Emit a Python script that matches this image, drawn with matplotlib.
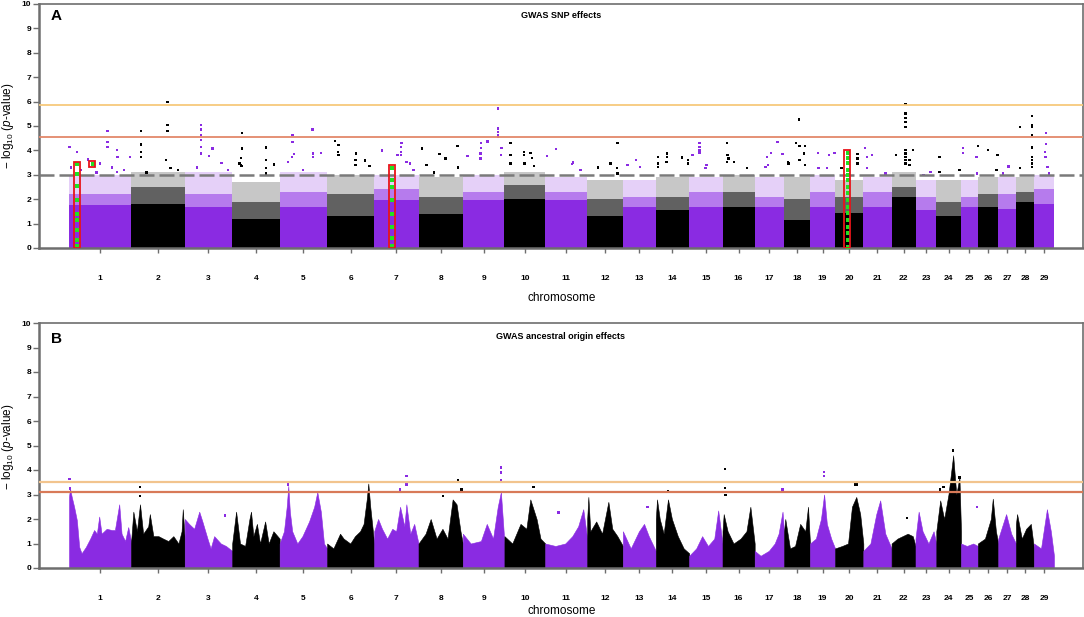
import numpy as np
import matplotlib.pyplot as plt
from matplotlib.patches import Rectangle

plt.rcParams['font.family'] = ['Liberation Sans', 'DejaVu Sans']
plt.rcParams['mathtext.fontset'] = 'custom'
plt.rcParams['mathtext.rm'] = 'Liberation Sans'
plt.rcParams['mathtext.it'] = 'Liberation Sans:italic'

# chromosome lengths (Mb), 29 autosomes
chrom_len = [158, 137, 121, 121, 121, 120, 113, 113, 106, 104, 107, 91, 84, 85, 85,
             82, 75, 66, 64, 72, 72, 61, 53, 63, 43, 52, 45, 46, 51]
chroms = list(range(1, 30))

# ---- panel A: GWAS SNP effects ----
# dense band of points: solid part, half-dense part, sparse part (-log10 p)
a_core = [1.75, 1.8, 1.7, 1.2, 1.7, 1.3, 1.95, 1.4, 1.95, 2.0, 1.95, 1.3, 1.7, 1.55, 1.7,
          1.7, 1.7, 1.15, 1.7, 1.45, 1.7, 2.1, 1.55, 1.3, 1.7, 1.7, 1.6, 1.9, 1.8]
a_mid = [2.2, 2.5, 2.2, 1.9, 2.3, 2.2, 2.4, 2.1, 2.3, 2.6, 2.3, 2.0, 2.1, 2.1, 2.3,
         2.3, 2.1, 2.0, 2.3, 2.1, 2.3, 2.5, 2.1, 1.9, 2.1, 2.2, 2.2, 2.3, 2.4]
a_top = [3.0, 3.1, 3.1, 2.7, 3.1, 3.0, 3.0, 2.9, 3.0, 3.1, 2.9, 2.8, 2.8, 2.9, 2.9,
         3.0, 2.9, 2.9, 3.0, 2.8, 2.9, 3.1, 2.8, 2.8, 2.8, 2.9, 2.9, 2.9, 3.0]

# individual SNPs standing above the band: chromosome, position (Mb), -log10 p
a_out = [
    (1, 1, 4.15), (1, 20, 3.94), (1, 98, 4.79), (1, 98, 4.35), (1, 98, 4.15), (1, 123, 4.01),
    (1, 124, 3.73), (1, 156, 3.73), (1, 48, 3.63), (1, 79, 3.47), (1, 123, 3.12), (1, 5, 3.3),
    (1, 30, 3.2), (1, 70, 3.1), (1, 110, 3.3), (1, 140, 3.2),
    (2, 25, 4.79), (2, 25, 4.24), (2, 25, 3.94), (2, 26, 3.73), (2, 93, 5.98), (2, 93, 5.03),
    (2, 93, 4.79), (2, 89, 3.6), (2, 101, 3.27), (2, 40, 3.1), (2, 120, 3.2),
    (3, 41, 5.03), (3, 41, 4.85), (3, 41, 4.64), (3, 41, 4.43), (3, 41, 4.15), (3, 41, 3.88),
    (3, 71, 4.08), (3, 62, 3.78), (3, 94, 3.49), (3, 31, 3.3), (3, 110, 3.2),
    (4, 25, 4.71), (4, 25, 4.08), (4, 22, 3.7), (4, 23, 3.4), (4, 24, 3.35), (4, 19, 3.47),
    (4, 86, 4.12), (4, 86, 3.6), (4, 86, 3.27), (4, 86, 3.06), (4, 107, 3.43),
    (5, 33, 4.64), (5, 33, 4.35), (5, 31, 3.73), (5, 84, 4.85), (5, 85, 3.88), (5, 85, 3.73),
    (5, 106, 3.9), (5, 37, 3.85), (5, 22, 3.53), (5, 60, 3.2),
    (6, 20, 4.39), (6, 29, 4.22), (6, 27, 3.94), (6, 29, 3.8), (6, 73, 3.88), (6, 72, 3.6),
    (6, 72, 3.4), (6, 97, 3.58), (6, 108, 3.35),
    (7, 70, 4.3), (7, 69, 4.15), (7, 69, 3.94), (7, 68, 3.8), (7, 82, 3.53), (7, 92, 3.47),
    (7, 20, 4.0), (7, 59, 3.8), (7, 100, 3.2),
    (8, 9, 4.08), (8, 54, 3.85), (8, 69, 3.66), (8, 99, 4.19), (8, 20, 3.39), (8, 100, 3.3),
    (8, 40, 3.1),
    (9, 89, 5.72), (9, 89, 4.89), (9, 89, 4.76), (9, 89, 4.64), (9, 89, 4.55), (9, 63, 4.37),
    (9, 46, 4.3), (9, 46, 4.1), (9, 45, 3.88), (9, 45, 3.66), (9, 12, 3.76), (9, 99, 4.1),
    (9, 98, 3.8),
    (10, 15, 4.3), (10, 15, 3.8), (10, 15, 3.47), (10, 50, 3.94), (10, 50, 3.8), (10, 51, 3.47),
    (10, 66, 3.9), (10, 71, 3.7), (10, 75, 3.35),
    (11, 27, 4.05), (11, 4, 3.76), (11, 71, 3.5), (11, 68, 3.45), (11, 90, 3.2),
    (12, 77, 4.3), (12, 59, 3.47), (12, 27, 3.3), (12, 76, 3.27), (12, 77, 3.06),
    (13, 33, 3.6), (13, 12, 3.39), (13, 44, 3.33),
    (14, 6, 3.73), (14, 6, 3.47), (14, 6, 3.33), (14, 29, 3.88), (14, 29, 3.73), (14, 27, 3.53),
    (14, 67, 3.71), (14, 82, 3.6), (14, 82, 3.47),
    (15, 26, 4.3), (15, 26, 4.15), (15, 26, 4.0), (15, 26, 3.9), (15, 8, 3.8), (15, 44, 3.39),
    (15, 42, 3.27),
    (16, 12, 4.3), (16, 13, 3.8), (16, 15, 3.67), (16, 11, 3.53), (16, 29, 3.53), (16, 63, 3.27),
    (17, 58, 4.35), (17, 41, 3.9), (17, 31, 3.73), (17, 71, 3.85), (17, 34, 3.4), (17, 28, 3.33),
    (18, 38, 5.27), (18, 30, 4.3), (18, 39, 4.19), (18, 54, 4.19), (18, 51, 3.88), (18, 39, 3.6),
    (18, 54, 3.4), (18, 10, 3.53), (18, 11, 3.47),
    (19, 20, 3.9), (19, 49, 3.8), (19, 62, 3.9), (19, 22, 3.27), (19, 44, 3.27),
    (20, 57, 3.85), (20, 57, 3.67), (20, 57, 3.47), (20, 16, 3.27),
    (21, 5, 4.1), (21, 22, 3.8), (21, 9, 3.73), (21, 9, 3.27), (21, 57, 3.06),
    (22, 35, 5.89), (22, 35, 5.52), (22, 35, 5.33), (22, 35, 5.16), (22, 35, 4.97), (22, 35, 4.02),
    (22, 35, 3.88), (22, 35, 3.73), (22, 35, 3.6), (22, 35, 3.47), (22, 55, 4.02), (22, 11, 3.8),
    (22, 46, 3.6), (22, 46, 3.39),
    (23, 38, 3.12), (23, 20, 3.0),
    (24, 8, 3.73), (24, 8, 3.12), (24, 59, 3.2),
    (25, 5, 4.1), (25, 5, 3.9), (25, 39, 3.73), (25, 41, 3.06),
    (26, 1, 4.19), (26, 26, 4.02), (26, 50, 3.8), (26, 47, 3.2),
    (27, 26, 3.34), (27, 12, 3.06),
    (28, 10, 4.97), (28, 41, 5.42), (28, 41, 5.03), (28, 41, 4.97), (28, 41, 4.64), (28, 41, 4.12),
    (28, 41, 3.73), (28, 41, 3.6), (28, 41, 3.47), (28, 41, 3.33), (28, 11, 3.27),
    (29, 31, 4.71), (29, 31, 4.26), (29, 28, 3.94), (29, 29, 3.73), (29, 34, 3.33), (29, 38, 3.06),
]

# highlighted regions (red boxes) and the SNPs marked green inside them
box_chrom = [1, 1, 7, 20]
box_start = [13, 52, 38, 23]
box_end = [28, 67, 54, 38]
box_low = [0, 3.33, 0, 0]
box_high = [3.52, 3.55, 3.4, 4.0]

green_chrom = [1] * 9 + [1] + [7] * 8 + [20] * 16
green_pos = [20] * 9 + [60] + [45] * 8 + [32] * 16
green_val = [3.45, 3.04, 2.56, 1.95, 1.4, 1.13, 0.72, 0.31, 0.1,
             3.43,
             3.27, 2.79, 2.51, 1.95, 1.4, 0.85, 0.4, 0.1,
             3.9, 3.68, 3.47, 3.2, 3.0, 2.79, 2.51, 2.24, 1.97, 1.69, 1.42, 1.15, 0.87, 0.6, 0.33, 0.05]

a_thresholds = [5.88, 4.53]
a_suggestive = 3.0

# ---- panel B: GWAS ancestral origin effects ----
# upper outline of the dense points along each chromosome
b_pos = [
    [0, 2.5, 7, 13, 20, 26, 32, 43, 54, 64, 71, 77, 83, 96, 109, 117, 128, 134, 143, 151, 158],
    [0, 6, 15, 23, 31, 44, 48, 57, 70, 82, 95, 108, 121, 129, 132, 137],
    [0, 11, 24, 37, 45, 58, 66, 75, 92, 105, 121],
    [0, 10, 20, 33, 44, 48, 54, 63, 71, 84, 93, 105, 121],
    [0, 11, 18, 22, 26, 32, 45, 58, 75, 88, 96, 105, 113, 121],
    [0, 16, 33, 42, 59, 71, 84, 93, 101, 105, 110, 120],
    [0, 10, 20, 33, 46, 56, 66, 77, 82, 92, 102, 113],
    [0, 18, 31, 46, 61, 74, 87, 97, 107, 113],
    [0, 20, 46, 61, 77, 89, 97, 104, 106],
    [0, 20, 41, 56, 66, 82, 92, 104],
    [0, 26, 51, 69, 84, 97, 107],
    [0, 3, 8, 23, 38, 54, 64, 77, 91],
    [0, 20, 41, 54, 66, 84],
    [0, 3, 10, 20, 31, 41, 56, 71, 85],
    [0, 18, 33, 48, 64, 74, 85],
    [0, 3, 13, 28, 46, 61, 71, 82],
    [0, 15, 36, 51, 61, 71, 75],
    [0, 3, 15, 28, 41, 54, 61, 66],
    [0, 15, 28, 36, 43, 54, 64],
    [0, 18, 33, 43, 54, 64, 72],
    [0, 18, 33, 43, 56, 72],
    [0, 15, 28, 41, 54, 61],
    [0, 8, 18, 33, 46, 53],
    [0, 10, 20, 31, 43, 51, 59, 63],
    [0, 15, 31, 43],
    [0, 18, 33, 38, 46, 52],
    [0, 20, 33, 45],
    [0, 3, 15, 26, 38, 46],
    [0, 18, 33, 43, 51],
]
b_val = [
    [2.9, 3.25, 2.9, 2.5, 1.95, 0.86, 0.6, 0.86, 1.2, 1.55, 1.4, 2.1, 1.4, 1.6, 1.55, 1.55, 2.6, 1.4, 1.1, 1.67, 1.1],
    [1.0, 2.3, 1.5, 2.6, 1.4, 1.7, 2.2, 1.3, 1.3, 1.2, 1.1, 1.3, 1.0, 1.5, 2.4, 1.2],
    [2.0, 1.8, 1.6, 2.3, 1.9, 1.2, 0.8, 1.3, 1.0, 0.9, 0.7],
    [1.0, 2.3, 1.0, 0.9, 2.0, 2.3, 1.3, 1.8, 1.0, 1.9, 1.0, 1.5, 1.2],
    [1.0, 1.5, 2.5, 3.35, 2.3, 1.5, 1.0, 1.3, 1.9, 2.5, 3.1, 2.3, 1.0, 0.8],
    [1.0, 0.8, 1.4, 1.2, 1.0, 1.3, 1.5, 1.8, 2.8, 3.45, 2.5, 1.0],
    [1.5, 2.0, 1.6, 1.2, 1.6, 1.5, 2.5, 1.7, 2.6, 1.4, 1.8, 1.0],
    [1.0, 1.4, 2.0, 1.2, 1.6, 1.2, 2.8, 2.6, 1.5, 1.0],
    [1.4, 1.0, 1.1, 1.8, 1.2, 2.5, 3.1, 1.5, 1.0],
    [1.3, 1.0, 1.8, 1.6, 2.8, 2.0, 1.2, 1.0],
    [1.0, 0.9, 1.0, 1.3, 1.7, 2.4, 1.2],
    [2.0, 2.9, 1.5, 1.9, 1.4, 2.7, 1.6, 1.3, 0.9],
    [1.5, 0.8, 1.5, 1.8, 1.3, 0.7],
    [2.0, 2.8, 2.0, 1.4, 2.8, 2.0, 1.3, 0.8, 0.6],
    [0.5, 0.8, 1.3, 0.9, 1.2, 2.35, 1.0],
    [1.5, 2.2, 1.5, 1.0, 1.2, 1.5, 2.5, 1.0],
    [0.7, 0.5, 0.7, 1.0, 1.4, 2.3, 1.4],
    [1.5, 2.0, 0.8, 0.9, 1.8, 1.5, 2.5, 1.0],
    [1.0, 1.2, 2.0, 3.0, 1.8, 1.2, 0.8],
    [0.8, 0.9, 1.0, 2.5, 2.9, 2.2, 1.0],
    [0.7, 1.0, 2.2, 2.76, 1.4, 0.8],
    [1.0, 1.2, 1.3, 1.4, 1.3, 0.9],
    [1.2, 2.3, 1.5, 1.0, 1.5, 1.0],
    [1.5, 2.76, 2.0, 3.0, 4.6, 3.0, 3.7, 1.5],
    [1.0, 0.9, 1.0, 0.9],
    [1.0, 1.2, 2.0, 2.83, 1.5, 1.0],
    [1.2, 2.2, 1.4, 1.0],
    [1.8, 2.2, 1.2, 1.6, 1.8, 0.8],
    [1.0, 0.8, 2.4, 1.5, 0.5],
]
b_out = [
    (1, 1, 3.63), (1, 2, 3.25), (2, 23, 3.3), (2, 23, 2.95), (3, 102, 2.15), (5, 22, 3.4),
    (6, 105, 3.5), (7, 66, 3.5), (7, 66, 3.2), (7, 82, 3.75), (7, 82, 3.4), (8, 62, 2.93),
    (8, 100, 3.58), (8, 110, 3.2), (9, 97, 4.1), (9, 97, 3.9), (9, 97, 3.6), (10, 74, 3.3),
    (11, 34, 2.26), (13, 63, 2.5), (14, 31, 3.5), (14, 31, 3.15), (16, 7, 4.05), (16, 7, 3.27),
    (16, 8, 2.97), (17, 71, 3.2), (19, 36, 3.92), (19, 36, 3.75), (20, 51, 3.4), (20, 56, 3.4),
    (22, 40, 2.04), (24, 43, 4.8), (24, 10, 3.2), (24, 12, 3.1), (24, 18, 3.3), (24, 59, 3.7),
    (25, 41, 2.5),
]
b_thresholds = [3.52, 3.1]

PURPLE = '#8a2be2'
BLACK = '#000000'
AXIS_GREY = '#6e6e6e'

offsets = np.concatenate([[0], np.cumsum(chrom_len)[:-1]])
mids = offsets + np.array(chrom_len) / 2.0
colors = [PURPLE if c % 2 == 1 else BLACK for c in chroms]


def style_axes(ax):
    ax.set_xlim(-76.5, offsets[-1] + chrom_len[-1] + 74)
    ax.set_ylim(0, 10)
    ax.set_yticks(range(0, 11))
    ax.set_xticks(mids)
    ax.set_xticklabels([str(c) for c in chroms])
    for s in ax.spines.values():
        s.set_color(AXIS_GREY)
        s.set_linewidth(1.2)
    ax.spines['left'].set_linewidth(1.8)
    ax.spines['bottom'].set_linewidth(1.8)
    ax.tick_params(axis='x', length=3.6, width=1.0, color=AXIS_GREY, pad=15.5, labelsize=6)
    ax.tick_params(axis='y', length=4.3, width=1.0, color=AXIS_GREY, pad=1.2, labelsize=6)
    for lab in ax.get_xticklabels() + ax.get_yticklabels():
        lab.set_fontweight('bold')


def scatter_points(ax, pts):
    xs = [offsets[c - 1] + p for c, p, v in pts]
    ys = [v for c, p, v in pts]
    cs = [colors[c - 1] for c, p, v in pts]
    ax.scatter(xs, ys, s=3, c=cs, marker='s', linewidths=0, zorder=2)


fig = plt.figure(figsize=(10.84, 6.17), dpi=100)
W, H = 1084.0, 617.0
axA = fig.add_axes([39 / W, 1 - 248 / H, 1044 / W, 244 / H])
axB = fig.add_axes([39 / W, 1 - 568 / H, 1044 / W, 245 / H])

# panel A
for i, c in enumerate(chroms):
    x = [offsets[i], offsets[i] + chrom_len[i]]
    axA.fill_between(x, 0, a_core[i], color=colors[i], lw=0, zorder=1)
    axA.fill_between(x, a_core[i], a_mid[i], color=colors[i], alpha=0.62, lw=0, zorder=1)
    axA.fill_between(x, a_mid[i], a_top[i], color=colors[i], alpha=0.22, lw=0, zorder=1)
scatter_points(axA, a_out)

axA.axhline(a_thresholds[0], color='#f7c97c', lw=1.3, zorder=3)
axA.axhline(a_thresholds[1], color='#e3886a', lw=1.3, zorder=3)
axA.axhline(a_suggestive, color='#7a7a7a', lw=1.8, ls=(0, (6, 2)), zorder=3)

gx = [offsets[c - 1] + p for c, p in zip(green_chrom, green_pos)]
axA.scatter(gx, green_val, s=5, c='#22e022', marker='s', linewidths=0, zorder=4)
for c, s0, s1, lo, hi in zip(box_chrom, box_start, box_end, box_low, box_high):
    axA.add_patch(Rectangle((offsets[c - 1] + s0, lo), s1 - s0, hi - lo,
                            fill=False, edgecolor='#e8141a', lw=1.3, zorder=5))

style_axes(axA)
axA.text(0.5, 0.951, 'GWAS SNP effects', transform=axA.transAxes, ha='center',
         va='center', fontsize=6.5, fontweight='bold')
axA.text(0.0163, 0.951, 'A', transform=axA.transAxes, ha='center', va='center',
         fontsize=11, fontweight='bold')

# panel B
for i, c in enumerate(chroms):
    x = offsets[i] + np.array(b_pos[i])
    axB.fill_between(x, 0, b_val[i], color=colors[i], lw=0.4, edgecolor=colors[i], zorder=1)
scatter_points(axB, b_out)
axB.axhline(b_thresholds[0], color='#f2c48e', lw=1.6, zorder=3)
axB.axhline(b_thresholds[1], color='#d87a58', lw=1.6, zorder=3)

style_axes(axB)
axB.text(0.5, 0.943, 'GWAS ancestral origin effects', transform=axB.transAxes,
         ha='center', va='center', fontsize=6.5, fontweight='bold')
axB.text(0.0163, 0.935, 'B', transform=axB.transAxes, ha='center', va='center',
         fontsize=11, fontweight='bold')

ylab = '\u2212 log$_{10}$ ($p$-value)'
fig.text(8 / W, 1 - 126 / H, ylab, rotation=90, ha='center', va='center', fontsize=8.5)
fig.text(8 / W, 1 - 447 / H, ylab, rotation=90, ha='center', va='center', fontsize=8.5)
fig.text(562 / W, 1 - 298 / H, 'chromosome', ha='center', va='center', fontsize=8.5)
fig.text(562 / W, 1 - 611 / H, 'chromosome', ha='center', va='center', fontsize=8.5)

fig.savefig('out.png', dpi=100)
